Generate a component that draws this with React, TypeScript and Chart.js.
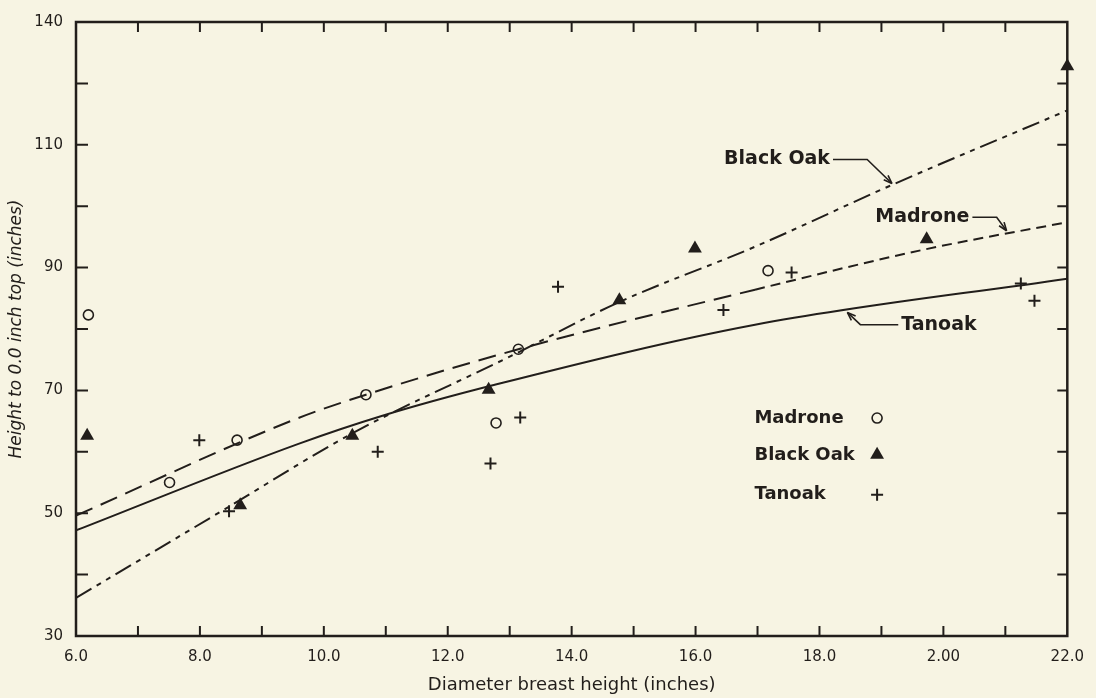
import React, { useEffect, useRef } from "react";
import { Chart, registerables } from "chart.js";

Chart.register(...registerables);

// ---- tick labels (as printed in the original figure) ----
const xTickLabels = ["6.0", "8.0", "10.0", "12.0", "14.0", "16.0", "18.0", "2.00", "22.0"];
const yTickLabels = ["30", "50", "70", "90", "110", "140"];

// ---- observed points ----
const madroneX = [6.2, 7.51, 8.6, 10.68, 12.78, 13.14, 17.17];
const madroneY = [82.3, 55.0, 61.9, 69.3, 64.7, 76.7, 89.5];

const blackOakX = [6.18, 8.65, 10.46, 12.66, 14.77, 15.99, 19.73, 22.0];
const blackOakY = [62.6, 51.3, 62.6, 70.1, 84.7, 93.1, 94.6, 122.8];

const tanoakX = [7.99, 8.47, 10.87, 12.69, 13.17, 13.78, 16.45, 17.55, 21.25, 21.47];
const tanoakY = [61.9, 50.3, 60.0, 58.1, 65.6, 86.9, 83.1, 89.2, 87.4, 84.6];

// ---- fitted curves ----
const blackOakCurveX = [6, 8.41, 10.44, 13.0, 14.77, 16.96, 19.2, 22];
const blackOakCurveY = [36.2, 50.7, 62.9, 75.5, 84.4, 93.4, 103.6, 115.6];

const madroneCurveX = [6, 9.59, 10.68, 13.14, 16.96, 19.72, 22];
const madroneCurveY = [49.6, 65.5, 69.3, 76.7, 86.4, 93.0, 97.4];

const tanoakCurveX = [6, 9.59, 10.92, 12.79, 16.96, 22];
const tanoakCurveY = [47.2, 61.3, 65.8, 71.0, 80.7, 88.2];

// ---- curve labels with leader arrows (data coordinates) ----
const curveLabels = ["Black Oak", "Madrone", "Tanoak"];
const curveLabelX = [16.46, 18.9, 19.32];
const curveLabelY = [107.6, 98.2, 80.7];
const curveLabelSide = ["right", "right", "left"];
const leaderKneeX = [18.77, 20.86, 18.66];
const leaderTipX = [19.17, 21.02, 18.45];
const leaderTipY = [103.7, 96.0, 82.7];

// ---- in-plot key ----
const keyLabels = ["Madrone", "Black Oak", "Tanoak"];
const keyMarkers = ["circle", "triangle", "cross"];
const keyTextX = 16.95;
const keyMarkerX = 18.93;
const keyY = [65.5, 59.5, 53.0];

const ink = "#221e1b";
const paper = "#f7f4e3";
const family = "'DejaVu Sans', sans-serif";

const pts = (xs: number[], ys: number[]) => xs.map((x, i) => ({ x, y: ys[i] }));

function drawMarker(ctx: CanvasRenderingContext2D, kind: string, x: number, y: number) {
  ctx.save();
  ctx.strokeStyle = ink;
  ctx.fillStyle = ink;
  if (kind === "circle") {
    ctx.lineWidth = 1.6;
    ctx.fillStyle = paper;
    ctx.beginPath();
    ctx.arc(x, y, 5, 0, Math.PI * 2);
    ctx.fill();
    ctx.stroke();
  } else if (kind === "triangle") {
    const r = 8;
    ctx.beginPath();
    for (let k = 0; k < 3; k++) {
      const a = (k * 2 * Math.PI) / 3;
      const px = x + Math.sin(a) * r;
      const py = y - Math.cos(a) * r;
      if (k === 0) ctx.moveTo(px, py);
      else ctx.lineTo(px, py);
    }
    ctx.closePath();
    ctx.fill();
  } else {
    ctx.lineWidth = 2;
    ctx.beginPath();
    ctx.moveTo(x - 6, y);
    ctx.lineTo(x + 6, y);
    ctx.moveTo(x, y - 6);
    ctx.lineTo(x, y + 6);
    ctx.stroke();
  }
  ctx.restore();
}

const decorPlugin = {
  id: "decor",
  beforeDatasetsDraw(chart: any) {
    const { ctx, chartArea: a, scales } = chart;
    const x = scales.x;
    const y = scales.y;
    ctx.save();
    ctx.strokeStyle = ink;
    ctx.lineWidth = 2.5;
    ctx.strokeRect(a.left, a.top, a.right - a.left, a.bottom - a.top);
    ctx.lineWidth = 2;
    ctx.beginPath();
    for (let v = 7; v < 22; v++) {
      const px = x.getPixelForValue(v);
      ctx.moveTo(px, a.bottom);
      ctx.lineTo(px, a.bottom - 10);
      ctx.moveTo(px, a.top);
      ctx.lineTo(px, a.top + 10);
    }
    for (let v = 40; v < 130; v += 10) {
      const py = y.getPixelForValue(v);
      ctx.moveTo(a.left, py);
      ctx.lineTo(a.left + 12, py);
      ctx.moveTo(a.right, py);
      ctx.lineTo(a.right - 10, py);
    }
    ctx.stroke();
    ctx.restore();
  },
  afterDatasetsDraw(chart: any) {
    const { ctx, scales } = chart;
    const x = scales.x;
    const y = scales.y;
    ctx.save();
    ctx.fillStyle = ink;
    ctx.strokeStyle = ink;
    ctx.font = `bold 19px ${family}`;
    ctx.textBaseline = "middle";
    curveLabels.forEach((label, i) => {
      const tx = x.getPixelForValue(curveLabelX[i]);
      const ty = y.getPixelForValue(curveLabelY[i]);
      ctx.textAlign = "left";
      ctx.fillText(label, tx, ty);
      const w = ctx.measureText(label).width;
      const sx = curveLabelSide[i] === "right" ? tx + w + 3 : tx - 3;
      const kx = x.getPixelForValue(leaderKneeX[i]);
      const ex = x.getPixelForValue(leaderTipX[i]);
      const ey = y.getPixelForValue(leaderTipY[i]);
      ctx.lineWidth = 1.6;
      ctx.beginPath();
      ctx.moveTo(sx, ty);
      ctx.lineTo(kx, ty);
      ctx.lineTo(ex, ey);
      ctx.stroke();
      // arrowhead
      const ang = Math.atan2(ey - ty, ex - kx);
      const hl = 9;
      ctx.beginPath();
      ctx.moveTo(ex, ey);
      ctx.lineTo(ex - hl * Math.cos(ang - 0.35), ey - hl * Math.sin(ang - 0.35));
      ctx.moveTo(ex, ey);
      ctx.lineTo(ex - hl * Math.cos(ang + 0.35), ey - hl * Math.sin(ang + 0.35));
      ctx.stroke();
    });
    ctx.font = `bold 18px ${family}`;
    ctx.textAlign = "left";
    keyLabels.forEach((label, i) => {
      const py = y.getPixelForValue(keyY[i]);
      ctx.fillText(label, x.getPixelForValue(keyTextX), py);
      drawMarker(ctx, keyMarkers[i], x.getPixelForValue(keyMarkerX), py);
    });
    ctx.restore();
  },
};

export default function App() {
  const ref = useRef<HTMLCanvasElement | null>(null);

  useEffect(() => {
    if (!ref.current) return;
    const lineBase = {
      type: "line" as const,
      pointRadius: 0,
      borderColor: ink,
      borderWidth: 2,
      fill: false,
      cubicInterpolationMode: "monotone" as const,
    };
    const chart = new Chart(ref.current, {
      type: "line",
      data: {
        datasets: [
          {
            ...lineBase,
            label: "Black Oak curve",
            data: pts(blackOakCurveX, blackOakCurveY),
            borderDash: [18, 6, 5, 6, 5, 6],
          },
          {
            ...lineBase,
            label: "Madrone curve",
            data: pts(madroneCurveX, madroneCurveY),
            borderDash: [18, 9],
            segment: {
              borderDash: (c: any) => (c.p0.parsed.x >= 16.9 ? [10, 6] : [18, 9]),
            },
          },
          {
            ...lineBase,
            label: "Tanoak curve",
            data: pts(tanoakCurveX, tanoakCurveY),
          },
          {
            label: "Madrone",
            data: pts(madroneX, madroneY),
            showLine: false,
            pointStyle: "circle",
            pointRadius: 5,
            pointBorderWidth: 1.6,
            pointBorderColor: ink,
            pointBackgroundColor: paper,
            clip: false,
          },
          {
            label: "Black Oak",
            data: pts(blackOakX, blackOakY),
            showLine: false,
            pointStyle: "triangle",
            pointRadius: 8,
            pointBorderWidth: 0,
            pointBorderColor: ink,
            pointBackgroundColor: ink,
            clip: false,
          },
          {
            label: "Tanoak",
            data: pts(tanoakX, tanoakY),
            showLine: false,
            pointStyle: "cross",
            pointRadius: 6,
            pointBorderWidth: 2,
            pointBorderColor: ink,
            clip: false,
          },
        ],
      },
      options: {
        animation: false,
        responsive: false,
        devicePixelRatio: 1,
        layout: { padding: { top: 19, right: 22, left: 0, bottom: 0 } },
        plugins: { legend: { display: false }, tooltip: { enabled: false } },
        scales: {
          x: {
            type: "linear",
            min: 6,
            max: 22,
            afterFit: (s: any) => {
              s.height = 62;
            },
            grid: { display: false, drawTicks: false },
            border: { display: false },
            ticks: {
              stepSize: 2,
              autoSkip: false,
              maxRotation: 0,
              padding: 12,
              color: ink,
              font: { family, size: 15 },
              callback: (_v: any, i: number) => xTickLabels[i],
            },
            title: {
              display: true,
              text: "Diameter breast height (inches)",
              color: ink,
              font: { family, size: 18 },
              padding: { top: 0, bottom: 2 },
            },
          },
          y: {
            type: "linear",
            min: 30,
            max: 130,
            afterFit: (s: any) => {
              s.width = 76;
            },
            grid: { display: false, drawTicks: false },
            border: { display: false },
            ticks: {
              stepSize: 20,
              autoSkip: false,
              padding: 13,
              color: ink,
              font: { family, size: 15 },
              callback: (_v: any, i: number) => yTickLabels[i],
            },
            title: {
              display: true,
              text: "Height to 0.0 inch top (inches)",
              color: ink,
              font: { family, size: 17, style: "italic" },
              padding: { top: 6, bottom: 0 },
            },
          },
        },
      },
      plugins: [decorPlugin],
    });
    return () => chart.destroy();
  }, []);

  return (
    <div
      style={{
        position: "fixed",
        left: 0,
        top: 0,
        width: 1096,
        height: 698,
        background: paper,
      }}
    >
      <canvas ref={ref} width={1096} height={698} style={{ display: "block" }} />
    </div>
  );
}
